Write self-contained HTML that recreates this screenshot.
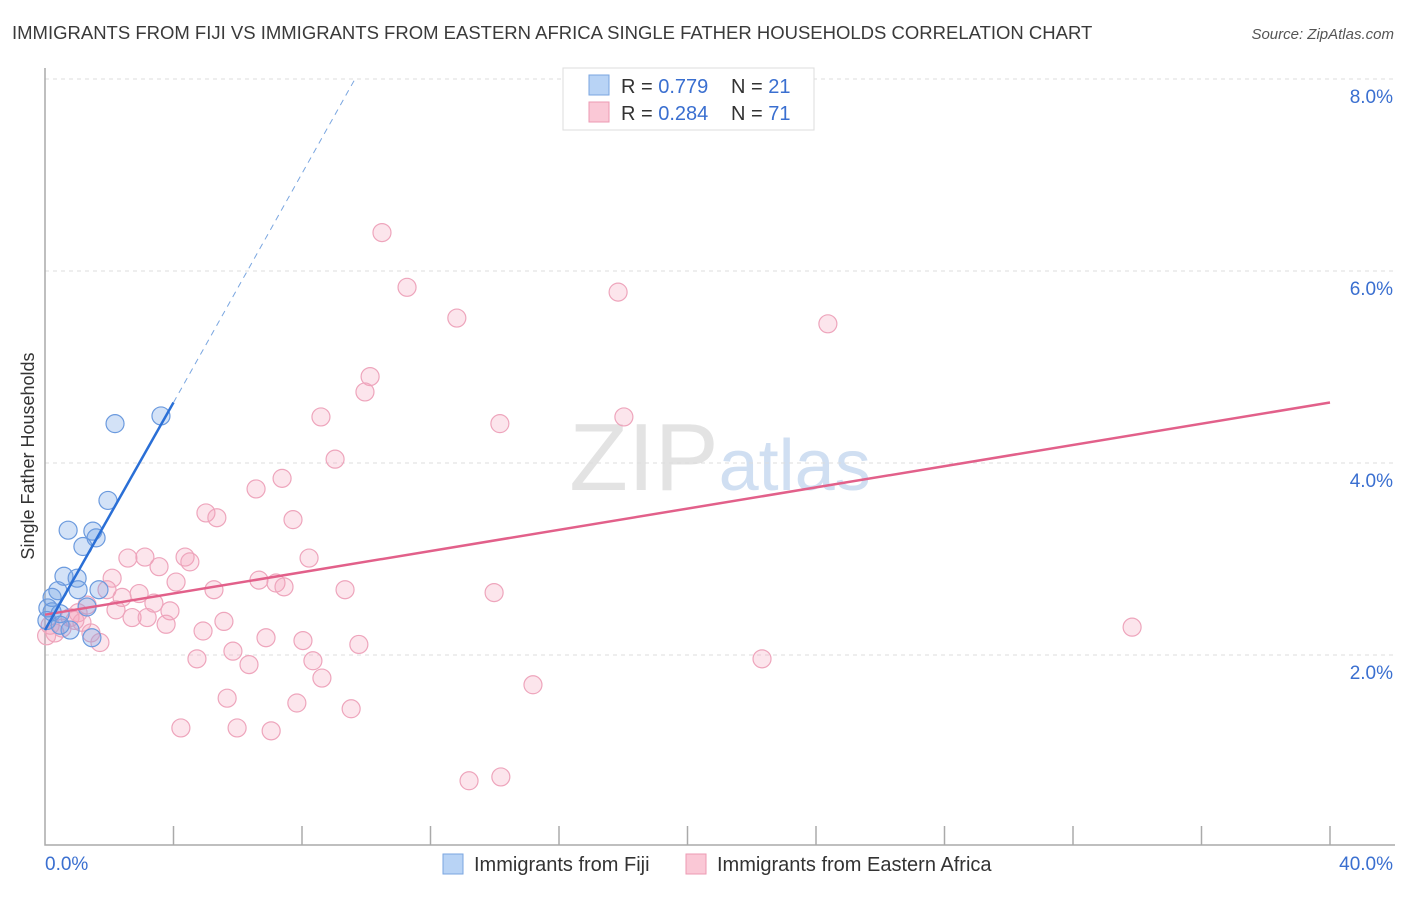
<!DOCTYPE html>
<html><head><meta charset="utf-8"><style>
body{margin:0;background:#fff;width:1406px;height:892px;overflow:hidden;font-family:"Liberation Sans",sans-serif}
svg text{font-family:"Liberation Sans",sans-serif}
</style></head><body>
<svg id="chart" width="1406" height="892" viewBox="0 0 1406 892" xmlns="http://www.w3.org/2000/svg">
<text x="12" y="39" font-size="18.5" fill="#3a3a3a">IMMIGRANTS FROM FIJI VS IMMIGRANTS FROM EASTERN AFRICA SINGLE FATHER HOUSEHOLDS CORRELATION CHART</text>
<text x="1394" y="39" font-size="15" fill="#555" text-anchor="end" font-style="italic">Source: ZipAtlas.com</text>
<text x="720" y="490" font-size="96" text-anchor="middle" fill="#e3e3e3" font-family="Liberation Serif"><tspan>ZIP</tspan><tspan fill="#d0dff2" font-family="Liberation Sans" font-size="72">atlas</tspan></text>
<g id="grid"></g>
<g id="axes"></g>
<text transform="translate(34,456) rotate(-90)" font-size="18" fill="#333" text-anchor="middle">Single Father Households</text>
<g id="marks"></g>
<g>
<rect x="563" y="68" width="251" height="62" fill="#fff" stroke="#ddd"/>
<rect x="589" y="75" width="20" height="20" fill="#b8d3f5" stroke="#7aa6e0"/>
<rect x="589" y="102" width="20" height="20" fill="#fac8d6" stroke="#ec9ab3"/>
<text x="621" y="93" font-size="20" fill="#333">R = <tspan fill="#3a6fd0">0.779</tspan><tspan x="731">N = </tspan><tspan fill="#3a6fd0">21</tspan></text>
<text x="621" y="120" font-size="20" fill="#333">R = <tspan fill="#3a6fd0">0.284</tspan><tspan x="731">N = </tspan><tspan fill="#3a6fd0">71</tspan></text>
</g>
<g>
<rect x="443" y="854" width="20" height="20" fill="#b8d3f5" stroke="#7aa6e0"/>
<text x="474" y="871" font-size="20" fill="#333">Immigrants from Fiji</text>
<rect x="686" y="854" width="20" height="20" fill="#fac8d6" stroke="#ec9ab3"/>
<text x="717" y="871" font-size="20" fill="#333">Immigrants from Eastern Africa</text>
</g>
</svg>
<script>
const yTicks=[2,4,6,8];
const yTickLabels=["2.0%","4.0%","6.0%","8.0%"];
const xTicks=[0,4,8,12,16,20,24,28,32,36,40];
const fijiX=[2.18,3.61,1.96,0.72,1.49,1.59,1.18,0.59,1.00,0.40,1.03,1.68,0.22,0.09,1.31,0.22,0.47,0.06,0.78,1.46,0.47];
const fijiY=[4.41,4.49,3.61,3.30,3.29,3.22,3.13,2.82,2.80,2.67,2.68,2.68,2.60,2.49,2.50,2.45,2.43,2.36,2.26,2.18,2.31];
const eafX=[10.49,11.27,17.84,12.82,24.37,10.12,9.96,8.59,14.16,18.02,9.03,7.38,6.57,5.01,5.35,7.72,2.58,3.11,4.36,4.51,3.55,8.22,4.08,2.09,6.66,7.19,7.44,5.26,1.93,2.93,2.40,9.34,13.98,3.39,2.21,1.31,3.89,2.71,3.18,5.57,3.77,33.84,1.03,0.78,4.92,1.43,6.88,8.03,9.77,1.71,5.85,4.73,8.34,6.35,22.32,8.62,15.19,5.67,7.84,9.53,4.23,5.98,7.04,13.20,14.19,0.31,0.16,0.53,1.15,0.93,0.05];
const eafY=[6.40,5.83,5.78,5.51,5.45,4.90,4.74,4.48,4.41,4.48,4.04,3.84,3.73,3.48,3.43,3.41,3.01,3.02,3.02,2.97,2.92,3.01,2.76,2.80,2.78,2.75,2.71,2.68,2.68,2.64,2.60,2.68,2.65,2.54,2.47,2.52,2.46,2.39,2.39,2.35,2.32,2.29,2.44,2.39,2.25,2.23,2.18,2.15,2.11,2.13,2.04,1.96,1.94,1.90,1.96,1.76,1.69,1.55,1.50,1.44,1.24,1.24,1.21,0.69,0.73,2.23,2.31,2.28,2.34,2.36,2.20];
const fijiTrend=[[0,2.26],[4,4.63]];
const fijiTrendDash=[[4,4.63],[9.65,8.0]];
const eafTrend=[[0,2.42],[40,4.63]];
const X=v=>45+v*32.125, Y=v=>847-v*96;
const NS="http://www.w3.org/2000/svg";
function mk(tag,attrs,parent){const e=document.createElementNS(NS,tag);for(const k in attrs)e.setAttribute(k,attrs[k]);parent.appendChild(e);return e;}
const grid=document.getElementById('grid'),axes=document.getElementById('axes'),marks=document.getElementById('marks');
yTicks.forEach((t,i)=>{
 const l=mk('line',{x1:45,x2:1393,y1:Y(t),y2:Y(t),stroke:'#ddd','stroke-dasharray':'4,4'},grid);
 
 
 const tx=mk('text',{x:1393,y:Y(t)+24,'font-size':19,fill:'#3a6fd0','text-anchor':'end'},axes);
 tx.textContent=yTickLabels[i];
 
 
});
const ax=mk('path',{d:'M45,68 V845 H1395',fill:'none',stroke:'#aaa','stroke-width':1.5},axes);


xTicks.slice(1).forEach(t=>{
 const l=mk('line',{x1:X(t),x2:X(t),y1:826,y2:845,stroke:'#aaa','stroke-width':1.5},axes);
 
 
});
const x0=mk('text',{x:45,y:870,'font-size':19,fill:'#3a6fd0'},axes);x0.textContent='0.0%';


const x1=mk('text',{x:1393,y:870,'font-size':19,fill:'#3a6fd0','text-anchor':'end'},axes);x1.textContent='40.0%';


eafX.forEach((v,i)=>{
 const c=mk('circle',{cx:X(v),cy:Y(eafY[i]),r:9,fill:'rgba(244,160,188,0.28)',stroke:'#eea5bc','stroke-width':1.2},marks);
 
 
});
fijiX.forEach((v,i)=>{
 const c=mk('circle',{cx:X(v),cy:Y(fijiY[i]),r:9,fill:'rgba(110,160,230,0.3)',stroke:'#6b9ade','stroke-width':1.2},marks);
 
 
});
const t1=mk('line',{x1:X(eafTrend[0][0]),y1:Y(eafTrend[0][1]),x2:X(eafTrend[1][0]),y2:Y(eafTrend[1][1]),stroke:'#e2608a','stroke-width':2.5},marks);


const t2=mk('line',{x1:X(fijiTrend[0][0]),y1:Y(fijiTrend[0][1]),x2:X(fijiTrend[1][0]),y2:Y(fijiTrend[1][1]),stroke:'#2a6fd6','stroke-width':2.5},marks);


const t3=mk('line',{x1:X(fijiTrendDash[0][0]),y1:Y(fijiTrendDash[0][1]),x2:X(fijiTrendDash[1][0]),y2:Y(fijiTrendDash[1][1]),stroke:'#7aa6e0','stroke-width':1,'stroke-dasharray':'6,5'},marks);


</script>
</body></html>
